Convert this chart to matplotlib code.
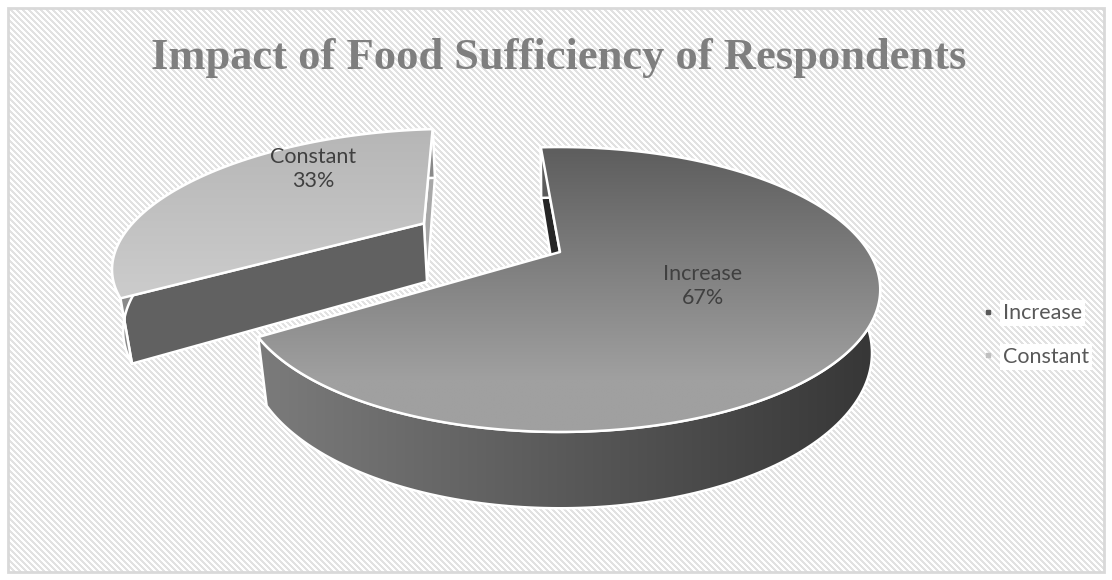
import numpy as np
import matplotlib
matplotlib.use('Agg')
import matplotlib.pyplot as plt
from matplotlib.patches import Polygon, Rectangle
from matplotlib.lines import Line2D

# ---------------- data ----------------
categories = ['Increase', 'Constant']
values = [67, 33]
pct_labels = ['67%', '33%']
title = 'Impact of Food Sufficiency of Respondents'

# ---------------- styling ----------------
W, H = 1112, 580
fig = plt.figure(figsize=(W / 100, H / 100), dpi=100)
ax = fig.add_axes([0, 0, 1, 1])
ax.set_xlim(0, W)
ax.set_ylim(H, 0)
ax.axis('off')

# background: diagonal light-gray stripes on white inside a light border
yy, xx = np.mgrid[0:H, 0:W]
stripe = ((xx - yy) % 6) < 3
bg = np.where(stripe, 0.89, 1.0)
bg_rgb = np.dstack([bg, bg, bg])
inner = (xx < 8) | (xx > 1104) | (yy < 8) | (yy > 572)
bg_rgb[inner] = 1.0
ax.imshow(bg_rgb, extent=(0, W, H, 0), interpolation='nearest', zorder=0, aspect='auto')
ax.add_patch(Rectangle((8, 8), 1096, 564, fill=False, edgecolor='#d9d9d9', lw=2, zorder=1))

# 3D projection parameters (perspective tilted disk)
D = 3.47
alpha = np.deg2rad(24)
s_a, c_a = np.sin(alpha), np.cos(alpha)
fx, fy = 1072, 1131
cx, cy = 560, 252
thick = 0.21
start_angle = 94.5
explode = [0.0, 0.52]


def proj(X, Z, Y):
    depth = D + Z * c_a - Y * s_a
    sx = cx + fx * X / depth
    sy = cy - fy * (Y * c_a + Z * s_a) / depth
    return np.column_stack([np.atleast_1d(sx), np.atleast_1d(sy)])


def hexrgb(h):
    h = h.lstrip('#')
    return np.array([int(h[i:i + 2], 16) / 255 for i in (0, 2, 4)])


def grad_poly(pts, c0, c1, lo, hi, direction='v', z=2, edge='white', lw=1.8):
    poly = Polygon(pts, closed=True, facecolor='none', edgecolor=edge, lw=lw,
                   zorder=z + 0.05, joinstyle='round')
    ax.add_patch(poly)
    xmin, ymin = pts.min(axis=0) - 2
    xmax, ymax = pts.max(axis=0) + 2
    n = 256
    if direction == 'v':
        coord = np.linspace(ymin, ymax, n)[:, None] * np.ones((1, 4))
    else:
        coord = np.ones((4, 1)) * np.linspace(xmin, xmax, n)[None, :]
    t = np.clip((coord - lo) / (hi - lo), 0, 1)[..., None]
    a, b = hexrgb(c0), hexrgb(c1)
    arr = a + (b - a) * t
    im = ax.imshow(arr, extent=(xmin, xmax, ymax, ymin), zorder=z,
                   interpolation='bilinear', aspect='auto')
    im.set_clip_path(poly)
    return poly


total = float(sum(values))
bounds = []
acc = 0.0
for v in values:
    a0 = start_angle - 360 * acc / total
    a1 = start_angle - 360 * (acc + v) / total
    bounds.append((a0, a1))
    acc += v

# styles per slice: top gradient, side gradient, cut faces
styles = {
    'Increase': dict(top=('#5e5e5e', '#a0a0a0', 150, 380, 'v'),
                     side=('#7a7a7a', '#363636', 270, 880, 'h'),
                     cut_start='#262626', cut_end='#505050'),
    'Constant': dict(top=('#b6b6b6', '#cbcbcb', 130, 290, 'v'),
                     side=('#8a8a8a', '#8a8a8a', 100, 200, 'h'),
                     cut_start='#616161', cut_end='#a8a8a8'),
}

# draw back (exploded) slice first, then the front one
order = [1, 0]
for k, i in enumerate(order):
    name = categories[i]
    st = styles[name]
    a0, a1 = bounds[i]
    mid = np.deg2rad((a0 + a1) / 2)
    ox, oz = explode[i] * np.cos(mid), explode[i] * np.sin(mid)
    phis = np.deg2rad(np.linspace(a0, a1, 240))
    X = ox + np.cos(phis)
    Z = oz + np.sin(phis)
    top_arc = proj(X, Z, 0.0)
    bot_arc = proj(X, Z, -thick)
    apex_t = proj(ox, oz, 0.0)
    apex_b = proj(ox, oz, -thick)
    base = 2 + k * 10
    # cut faces
    cut_s = np.vstack([apex_t, top_arc[:1], bot_arc[:1], apex_b])
    cut_e = np.vstack([apex_t, top_arc[-1:], bot_arc[-1:], apex_b])
    ax.add_patch(Polygon(cut_e, closed=True, facecolor=st['cut_end'], edgecolor='white',
                         lw=1.8, zorder=base))
    ax.add_patch(Polygon(cut_s, closed=True, facecolor=st['cut_start'], edgecolor='white',
                         lw=1.8, zorder=base + 1))
    # outer curved side
    side = np.vstack([top_arc, bot_arc[::-1]])
    c0, c1, lo, hi, d = st['side']
    grad_poly(side, c0, c1, lo, hi, d, z=base + 2)
    # top face
    top = np.vstack([apex_t, top_arc])
    c0, c1, lo, hi, d = st['top']
    grad_poly(top, c0, c1, lo, hi, d, z=base + 4)

# data labels
label_pos = {'Increase': (703, 286), 'Constant': (313, 169)}
for name, p in zip(categories, pct_labels):
    x, y = label_pos[name]
    ax.text(x, y, f'{name}\n{p}', ha='center', va='center', fontsize=15.5,
            family='Lato', color='#404040', linespacing=1.2, zorder=40)

# title
ax.text(559, 58, title, ha='center', va='center', fontsize=32, fontweight='bold',
        family='Liberation Serif', color='#7f7f7f', zorder=40)

# legend
handles = [Line2D([], [], ls='none', marker='s', markersize=3, color='#595959'),
           Line2D([], [], ls='none', marker='s', markersize=3, color='#bfbfbf')]
leg = ax.legend(handles, categories, loc='center left',
                bbox_to_anchor=(962 / W, 1 - 335 / H), frameon=False,
                prop={'family': 'Lato', 'size': 15.5}, labelcolor='#595959',
                handlelength=0.6, handletextpad=0.4, labelspacing=1.1)
for t in leg.get_texts():
    t.set_bbox(dict(facecolor='white', edgecolor='none', pad=2))
leg.set_zorder(50)

ax.set_xlim(0, W)
ax.set_ylim(H, 0)
fig.savefig('out.png', dpi=100)
